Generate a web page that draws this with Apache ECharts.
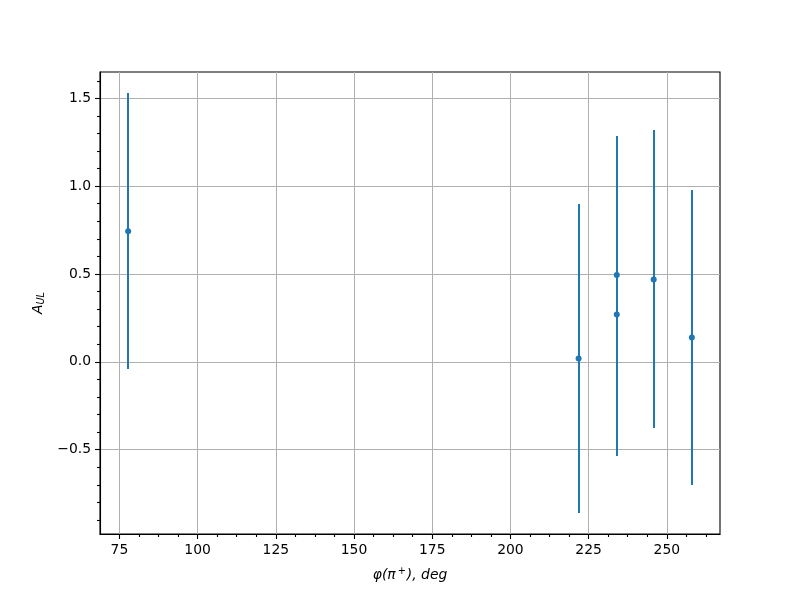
<!DOCTYPE html>
<html>
<head>
<meta charset="utf-8">
<script src="https://cdn.jsdelivr.net/npm/echarts@6/dist/echarts.min.js"></script>
<style>html,body{margin:0;padding:0;background:#fff}#c{width:800px;height:600px}</style>
</head>
<body>
<div id="c"></div>
<script>
// data
var phi = [77.8, 221.8, 234.0, 234.0, 245.8, 258.0];
var aul = [0.743, 0.019, 0.494, 0.270, 0.469, 0.139];
var err = [0.785, 0.879, 0.792, 0.807, 0.848, 0.839];
var xMajor = [75, 100, 125, 150, 175, 200, 225, 250];
var xMinor = [81.25, 87.5, 93.75, 106.25, 112.5, 118.75, 131.25, 137.5, 143.75, 156.25, 162.5, 168.75,
              181.25, 187.5, 193.75, 206.25, 212.5, 218.75, 231.25, 237.5, 243.75, 256.25, 262.5];
var yMajor = [-0.5, 0.0, 0.5, 1.0, 1.5];
var yMinor = [-0.9, -0.8, -0.7, -0.6, -0.4, -0.3, -0.2, -0.1, 0.1, 0.2, 0.3, 0.4,
              0.6, 0.7, 0.8, 0.9, 1.1, 1.2, 1.3, 1.4, 1.6];

var XMIN = 68.8, XMAX = 267.0, YMIN = -0.98, YMAX = 1.65;
var FONT = 'DejaVu Sans';
var C = '#1f77b4';

var barData = phi.map(function (x, i) { return [x, aul[i], aul[i] - err[i], aul[i] + err[i]]; });
var ptData = phi.map(function (x, i) { return [x, aul[i]]; });

function fmtY(v) {
  var s = Math.abs(v).toFixed(1);
  return v < 0 ? '\u2212' + s : s;
}

var chart = echarts.init(document.getElementById('c'), null, {renderer: 'canvas'});
chart.setOption({
  animation: false,
  backgroundColor: '#fff',
  grid: {left: 100, right: 80, top: 72, bottom: 66, show: true, borderColor: '#000', borderWidth: 1.1, backgroundColor: 'transparent'},
  xAxis: [{
    type: 'value', min: XMIN, max: XMAX, position: 'bottom',
    axisLine: {show: true, onZero: false, lineStyle: {color: '#000', width: 1.1}},
    axisTick: {show: true, inside: false, length: 5, lineStyle: {color: '#000', width: 1.1}, customValues: xMajor},
    axisLabel: {show: true, margin: 9, color: '#000', fontFamily: FONT, fontSize: 13.9, customValues: xMajor,
      formatter: function (v) { return String(v); }},
    splitLine: {show: true, lineStyle: {color: '#b0b0b0', width: 1}},
    name: '{i|\u03c6(\u03c0}{s|+}{i|), deg}',
    nameLocation: 'middle', nameGap: 32,
    nameTextStyle: {color: '#000', fontFamily: FONT, fontSize: 13.9,
      rich: {i: {fontStyle: 'italic', fontFamily: FONT, fontSize: 13.9, color: '#000'},
             s: {fontFamily: FONT, fontSize: 9.7, color: '#000', padding: [0, 1, 8, 2]}}}
  }, {
    type: 'value', min: XMIN, max: XMAX, position: 'bottom',
    axisLine: {show: false, onZero: false},
    axisTick: {show: true, inside: false, length: 3, lineStyle: {color: '#000', width: 1.1}, customValues: xMinor},
    axisLabel: {show: false},
    splitLine: {show: false}
  }],
  yAxis: [{
    type: 'value', min: YMIN, max: YMAX, position: 'left',
    axisLine: {show: true, onZero: false, lineStyle: {color: '#000', width: 1.1}},
    axisTick: {show: true, inside: false, length: 5, lineStyle: {color: '#000', width: 1.1}, customValues: yMajor},
    axisLabel: {show: true, margin: 9, color: '#000', fontFamily: FONT, fontSize: 13.9, customValues: yMajor,
      formatter: fmtY},
    splitLine: {show: true, lineStyle: {color: '#b0b0b0', width: 1}},
    name: '{a|A}{s|UL}',
    nameLocation: 'middle', nameGap: 52,
    nameTextStyle: {color: '#000', fontFamily: FONT, fontSize: 13.9,
      rich: {a: {fontStyle: 'italic', fontFamily: FONT, fontSize: 13.9, color: '#000'},
             s: {fontStyle: 'italic', fontFamily: FONT, fontSize: 9.7, color: '#000', padding: [6, 0, 0, 0]}}}
  }, {
    type: 'value', min: YMIN, max: YMAX, position: 'left',
    axisLine: {show: false, onZero: false},
    axisTick: {show: true, inside: false, length: 3, lineStyle: {color: '#000', width: 1.1}, customValues: yMinor},
    axisLabel: {show: false},
    splitLine: {show: false}
  }],
  series: [{
    type: 'custom',
    xAxisIndex: 0, yAxisIndex: 0,
    data: barData,
    encode: {x: 0, y: [1, 2, 3]},
    z: 5,
    renderItem: function (params, api) {
      var lo = api.coord([api.value(0), api.value(2)]);
      var hi = api.coord([api.value(0), api.value(3)]);
      var px = Math.round(lo[0]);
      return {
        type: 'line',
        shape: {x1: px, y1: Math.round(lo[1]), x2: px, y2: Math.round(hi[1])},
        style: {stroke: C, lineWidth: 2, opacity: 1}
      };
    }
  }, {
    type: 'scatter',
    xAxisIndex: 0, yAxisIndex: 0,
    data: ptData,
    symbol: 'circle', symbolSize: 6,
    itemStyle: {color: C, opacity: 1},
    z: 6
  }]
});
</script>
</body>
</html>
